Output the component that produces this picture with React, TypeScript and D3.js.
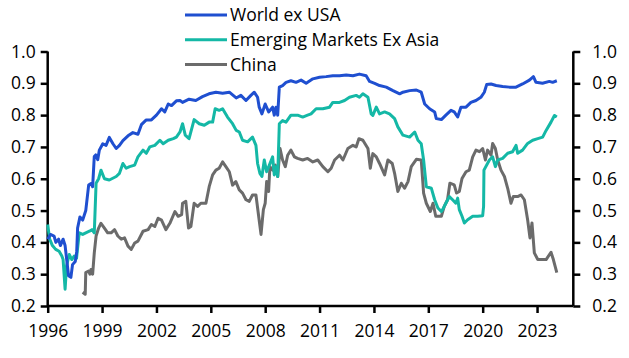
import React, { useRef, useEffect } from 'react';
import * as d3 from 'd3';

type Pt = [number, number];

// [year, value]
const worldExUsa: Pt[] = [
  [1996.0, 0.41], [1996.15, 0.425], [1996.35, 0.42], [1996.45, 0.40], [1996.6, 0.41], [1996.7, 0.39],
  [1996.85, 0.41], [1996.96, 0.39], [1997.04, 0.35], [1997.15, 0.295], [1997.28, 0.29], [1997.37, 0.33],
  [1997.52, 0.34], [1997.6, 0.37], [1997.65, 0.445], [1997.78, 0.48], [1997.93, 0.47], [1998.1, 0.50],
  [1998.26, 0.58], [1998.39, 0.585], [1998.48, 0.575], [1998.57, 0.67], [1998.65, 0.675], [1998.76, 0.66],
  [1998.85, 0.69], [1999.04, 0.71], [1999.22, 0.705], [1999.4, 0.73], [1999.6, 0.71], [1999.78, 0.695],
  [1999.96, 0.705], [2000.15, 0.72], [2000.43, 0.735], [2000.7, 0.745], [2000.98, 0.74], [2001.17, 0.77],
  [2001.44, 0.785], [2001.72, 0.785], [2002.0, 0.80], [2002.28, 0.82], [2002.46, 0.81], [2002.65, 0.835],
  [2002.83, 0.83], [2003.1, 0.845], [2003.3, 0.846], [2003.44, 0.84], [2003.8, 0.85], [2004.17, 0.846],
  [2004.54, 0.858], [2004.9, 0.867], [2005.28, 0.872], [2005.65, 0.869], [2006.02, 0.872], [2006.4, 0.854],
  [2006.66, 0.862], [2006.94, 0.846], [2007.21, 0.862], [2007.4, 0.872], [2007.58, 0.856], [2007.67, 0.825],
  [2007.82, 0.804], [2008.0, 0.835], [2008.19, 0.81], [2008.41, 0.825], [2008.5, 0.80], [2008.6, 0.825],
  [2008.69, 0.80], [2008.78, 0.888], [2008.96, 0.893], [2009.15, 0.903], [2009.42, 0.908], [2009.7, 0.903],
  [2009.98, 0.91], [2010.26, 0.90], [2010.63, 0.914], [2011.0, 0.919], [2011.36, 0.921], [2011.73, 0.924],
  [2012.1, 0.924], [2012.47, 0.926], [2012.84, 0.924], [2013.2, 0.929], [2013.57, 0.924], [2013.76, 0.906],
  [2014.04, 0.90], [2014.31, 0.893], [2014.68, 0.888], [2015.05, 0.877], [2015.42, 0.867], [2015.6, 0.872],
  [2015.97, 0.877], [2016.34, 0.879], [2016.61, 0.872], [2016.8, 0.835], [2017.07, 0.82], [2017.35, 0.81],
  [2017.44, 0.789], [2017.72, 0.786], [2017.97, 0.80], [2018.25, 0.815], [2018.43, 0.81], [2018.62, 0.794],
  [2018.8, 0.825], [2019.08, 0.825], [2019.35, 0.84], [2019.63, 0.846], [2019.9, 0.856], [2020.09, 0.872],
  [2020.22, 0.896], [2020.46, 0.898], [2020.74, 0.893], [2021.1, 0.89], [2021.47, 0.888], [2021.84, 0.888],
  [2022.2, 0.898], [2022.58, 0.91], [2022.8, 0.921], [2022.94, 0.903], [2023.3, 0.90], [2023.68, 0.906],
  [2023.86, 0.903], [2024.09, 0.908],
];

const emExAsia: Pt[] = [
  [1996.0, 0.456], [1996.11, 0.41], [1996.26, 0.39], [1996.44, 0.378], [1996.63, 0.372], [1996.78, 0.357],
  [1996.85, 0.346], [1996.96, 0.253], [1997.04, 0.326], [1997.19, 0.362], [1997.33, 0.346], [1997.46, 0.357],
  [1997.59, 0.35], [1997.74, 0.43], [1997.93, 0.425], [1998.1, 0.43], [1998.3, 0.435], [1998.44, 0.44],
  [1998.57, 0.43], [1998.67, 0.586], [1998.81, 0.60], [1998.94, 0.627], [1999.13, 0.60], [1999.4, 0.596],
  [1999.78, 0.607], [1999.96, 0.617], [2000.15, 0.648], [2000.33, 0.633], [2000.52, 0.638], [2000.8, 0.643],
  [2000.98, 0.669], [2001.26, 0.69], [2001.44, 0.68], [2001.63, 0.70], [2001.91, 0.705], [2002.19, 0.721],
  [2002.37, 0.71], [2002.65, 0.721], [2002.93, 0.726], [2003.1, 0.731], [2003.3, 0.747], [2003.44, 0.773],
  [2003.59, 0.737], [2003.8, 0.726], [2004.08, 0.786], [2004.36, 0.773], [2004.64, 0.768], [2004.91, 0.778],
  [2005.1, 0.778], [2005.24, 0.82], [2005.46, 0.815], [2005.65, 0.82], [2005.92, 0.794], [2006.2, 0.773],
  [2006.4, 0.752], [2006.57, 0.747], [2006.75, 0.721], [2007.03, 0.716], [2007.3, 0.731], [2007.49, 0.705],
  [2007.58, 0.648], [2007.71, 0.617], [2007.82, 0.607], [2007.95, 0.659], [2008.08, 0.622], [2008.23, 0.643],
  [2008.41, 0.669], [2008.5, 0.612], [2008.6, 0.638], [2008.69, 0.607], [2008.78, 0.773], [2008.96, 0.783],
  [2009.15, 0.778], [2009.42, 0.80], [2009.79, 0.80], [2010.07, 0.794], [2010.34, 0.80], [2010.53, 0.804],
  [2010.81, 0.82], [2011.18, 0.82], [2011.55, 0.825], [2011.73, 0.84], [2012.1, 0.84], [2012.38, 0.846],
  [2012.65, 0.856], [2013.02, 0.862], [2013.2, 0.856], [2013.39, 0.867], [2013.67, 0.856], [2013.85, 0.804],
  [2013.94, 0.799], [2014.13, 0.825], [2014.31, 0.804], [2014.59, 0.81], [2014.86, 0.804], [2015.14, 0.789],
  [2015.32, 0.763], [2015.6, 0.737], [2015.97, 0.731], [2016.25, 0.747], [2016.43, 0.721], [2016.61, 0.71],
  [2016.74, 0.659], [2016.89, 0.575], [2017.17, 0.57], [2017.35, 0.534], [2017.53, 0.508], [2017.72, 0.497],
  [2017.79, 0.503], [2017.97, 0.523], [2018.16, 0.544], [2018.34, 0.534], [2018.52, 0.523], [2018.62, 0.539],
  [2018.71, 0.503], [2018.86, 0.482], [2018.99, 0.461], [2019.17, 0.471], [2019.45, 0.482], [2019.72, 0.482],
  [2020.0, 0.484], [2020.05, 0.513], [2020.07, 0.627], [2020.37, 0.659], [2020.55, 0.669], [2020.7, 0.638],
  [2020.83, 0.659], [2021.1, 0.664], [2021.38, 0.68], [2021.65, 0.685], [2021.84, 0.705], [2021.93, 0.68],
  [2022.2, 0.69], [2022.48, 0.711], [2022.76, 0.721], [2023.04, 0.726], [2023.31, 0.731], [2023.5, 0.752],
  [2023.77, 0.778], [2023.96, 0.799], [2024.09, 0.794],
];

const china: Pt[] = [
  [1997.93, 0.243], [1998.07, 0.237], [1998.1, 0.305], [1998.26, 0.31], [1998.33, 0.30], [1998.39, 0.315],
  [1998.48, 0.30], [1998.57, 0.367], [1998.67, 0.42], [1998.81, 0.445], [1998.94, 0.46], [1999.13, 0.445],
  [1999.31, 0.43], [1999.5, 0.43], [1999.69, 0.44], [1999.87, 0.42], [2000.06, 0.41], [2000.24, 0.414],
  [2000.43, 0.388], [2000.61, 0.378], [2000.8, 0.398], [2000.98, 0.404], [2001.26, 0.435], [2001.54, 0.44],
  [2001.72, 0.456], [2001.91, 0.45], [2002.09, 0.476], [2002.28, 0.47], [2002.52, 0.44], [2002.74, 0.46],
  [2003.02, 0.497], [2003.2, 0.482], [2003.39, 0.487], [2003.44, 0.523], [2003.62, 0.529], [2003.77, 0.445],
  [2003.9, 0.45], [2004.08, 0.523], [2004.27, 0.513], [2004.45, 0.523], [2004.73, 0.523], [2004.91, 0.575],
  [2005.1, 0.612], [2005.28, 0.627], [2005.46, 0.633], [2005.65, 0.653], [2005.83, 0.638], [2006.02, 0.622],
  [2006.2, 0.58], [2006.38, 0.591], [2006.57, 0.565], [2006.75, 0.555], [2006.94, 0.534], [2007.12, 0.529],
  [2007.3, 0.549], [2007.49, 0.549], [2007.64, 0.482], [2007.77, 0.425], [2007.9, 0.503], [2008.0, 0.523],
  [2008.08, 0.591], [2008.19, 0.56], [2008.26, 0.638], [2008.41, 0.627], [2008.56, 0.643], [2008.69, 0.607],
  [2008.82, 0.695], [2008.96, 0.659], [2009.11, 0.638], [2009.24, 0.674], [2009.42, 0.69], [2009.61, 0.669],
  [2009.79, 0.664], [2010.07, 0.659], [2010.34, 0.664], [2010.63, 0.653], [2010.9, 0.659], [2011.18, 0.638],
  [2011.46, 0.622], [2011.64, 0.633], [2011.83, 0.659], [2012.1, 0.674], [2012.29, 0.659], [2012.56, 0.695],
  [2012.84, 0.705], [2013.02, 0.70], [2013.17, 0.726], [2013.39, 0.721], [2013.67, 0.695], [2013.8, 0.633],
  [2013.94, 0.679], [2014.13, 0.669], [2014.31, 0.648], [2014.59, 0.612], [2014.77, 0.659], [2015.01, 0.648],
  [2015.14, 0.617], [2015.32, 0.56], [2015.51, 0.586], [2015.69, 0.57], [2015.88, 0.591], [2016.06, 0.638],
  [2016.34, 0.661], [2016.61, 0.659], [2016.74, 0.555], [2016.89, 0.523], [2017.11, 0.497], [2017.26, 0.523],
  [2017.41, 0.482], [2017.72, 0.482], [2017.88, 0.513], [2018.06, 0.534], [2018.19, 0.586], [2018.43, 0.581],
  [2018.56, 0.555], [2018.71, 0.56], [2018.86, 0.601], [2019.08, 0.622], [2019.26, 0.627], [2019.45, 0.669],
  [2019.63, 0.69], [2019.82, 0.685], [2020.0, 0.695], [2020.15, 0.659], [2020.27, 0.69], [2020.46, 0.674],
  [2020.55, 0.711], [2020.7, 0.695], [2020.83, 0.659], [2021.01, 0.627], [2021.2, 0.607], [2021.38, 0.57],
  [2021.56, 0.523], [2021.69, 0.544], [2021.93, 0.544], [2022.12, 0.549], [2022.3, 0.534], [2022.48, 0.471],
  [2022.61, 0.414], [2022.72, 0.461], [2022.85, 0.367], [2023.04, 0.346], [2023.31, 0.346], [2023.5, 0.346],
  [2023.77, 0.369], [2023.9, 0.346], [2024.09, 0.305],
];

const seriesNames = ['World ex USA', 'Emerging Markets Ex Asia', 'China'];
const seriesColors = ['#1f4fd0', '#14b8a6', '#6b6b6b'];
const seriesData = [worldExUsa, emExAsia, china];

const yearTicks = [1996, 1999, 2002, 2005, 2008, 2011, 2014, 2017, 2020, 2023];
const valueTicks = [0.2, 0.3, 0.4, 0.5, 0.6, 0.7, 0.8, 0.9, 1.0];

const W = 629;
const H = 358;
const FONT = "'Open Sans', sans-serif";
const FS = '17.5px';

export default function App() {
  const ref = useRef<SVGSVGElement>(null);

  useEffect(() => {
    if (!ref.current) return;
    const svg = d3.select(ref.current);
    svg.selectAll('*').remove();

    const x = d3.scaleLinear().domain([1996, 2025]).range([47.7, 573.3]);
    const y = d3.scaleLinear().domain([0.2, 1.0]).range([306, 51.5]);

    const fmt = d3.format('.1f');

    // axes
    const left = svg.append('g').attr('transform', `translate(${x.range()[0]},0)`)
      .call(d3.axisLeft(y).tickValues(valueTicks).tickFormat(d => fmt(+d)).tickSize(7).tickPadding(5));
    const right = svg.append('g').attr('transform', `translate(${x.range()[1]},0)`)
      .call(d3.axisRight(y).tickValues(valueTicks).tickFormat(d => fmt(+d)).tickSize(7).tickPadding(12));
    const bottom = svg.append('g').attr('transform', `translate(0,${y.range()[0]})`)
      .call(d3.axisBottom(x).tickValues(yearTicks).tickFormat(d => String(d)).tickSize(7).tickPadding(12));

    [left, right, bottom].forEach(g => {
      g.select('.domain').attr('stroke', '#000').attr('stroke-width', 2.5);
      g.selectAll('.tick line').attr('stroke', '#000').attr('stroke-width', 2.5);
      g.selectAll('.tick text')
        .attr('fill', '#000')
        .style('font-family', FONT)
        .style('font-size', FS);
    });
    // no outer ticks
    left.select('.domain').attr('d', `M0,${y.range()[0]}V${y.range()[1]}`);
    right.select('.domain').attr('d', `M0,${y.range()[0]}V${y.range()[1]}`);
    bottom.select('.domain').attr('d', `M${x.range()[0]},0H${x.range()[1]}`);

    const line = d3.line<Pt>().x(d => x(d[0])).y(d => y(d[1]));

    // draw back to front: China, EM ex Asia, World ex USA
    [2, 1, 0].forEach(i => {
      svg.append('path')
        .datum(seriesData[i])
        .attr('fill', 'none')
        .attr('stroke', seriesColors[i])
        .attr('stroke-width', 3)
        .attr('stroke-linejoin', 'round')
        .attr('d', line);
    });

    // legend
    const legend = svg.append('g').attr('transform', 'translate(185,15)');
    seriesNames.forEach((name, i) => {
      const row = legend.append('g').attr('transform', `translate(0,${i * 24.7})`);
      row.append('line')
        .attr('x1', 0).attr('x2', 42)
        .attr('stroke', seriesColors[i])
        .attr('stroke-width', 3);
      row.append('text')
        .attr('x', 45)
        .attr('dy', '0.35em')
        .attr('fill', '#000')
        .style('font-family', FONT)
        .style('font-size', FS)
        .text(name);
    });
  }, []);

  return (
    <div style={{ position: 'absolute', left: 0, top: 0, width: W, height: H, background: '#fff' }}>
      <svg ref={ref} width={W} height={H}></svg>
    </div>
  );
}
